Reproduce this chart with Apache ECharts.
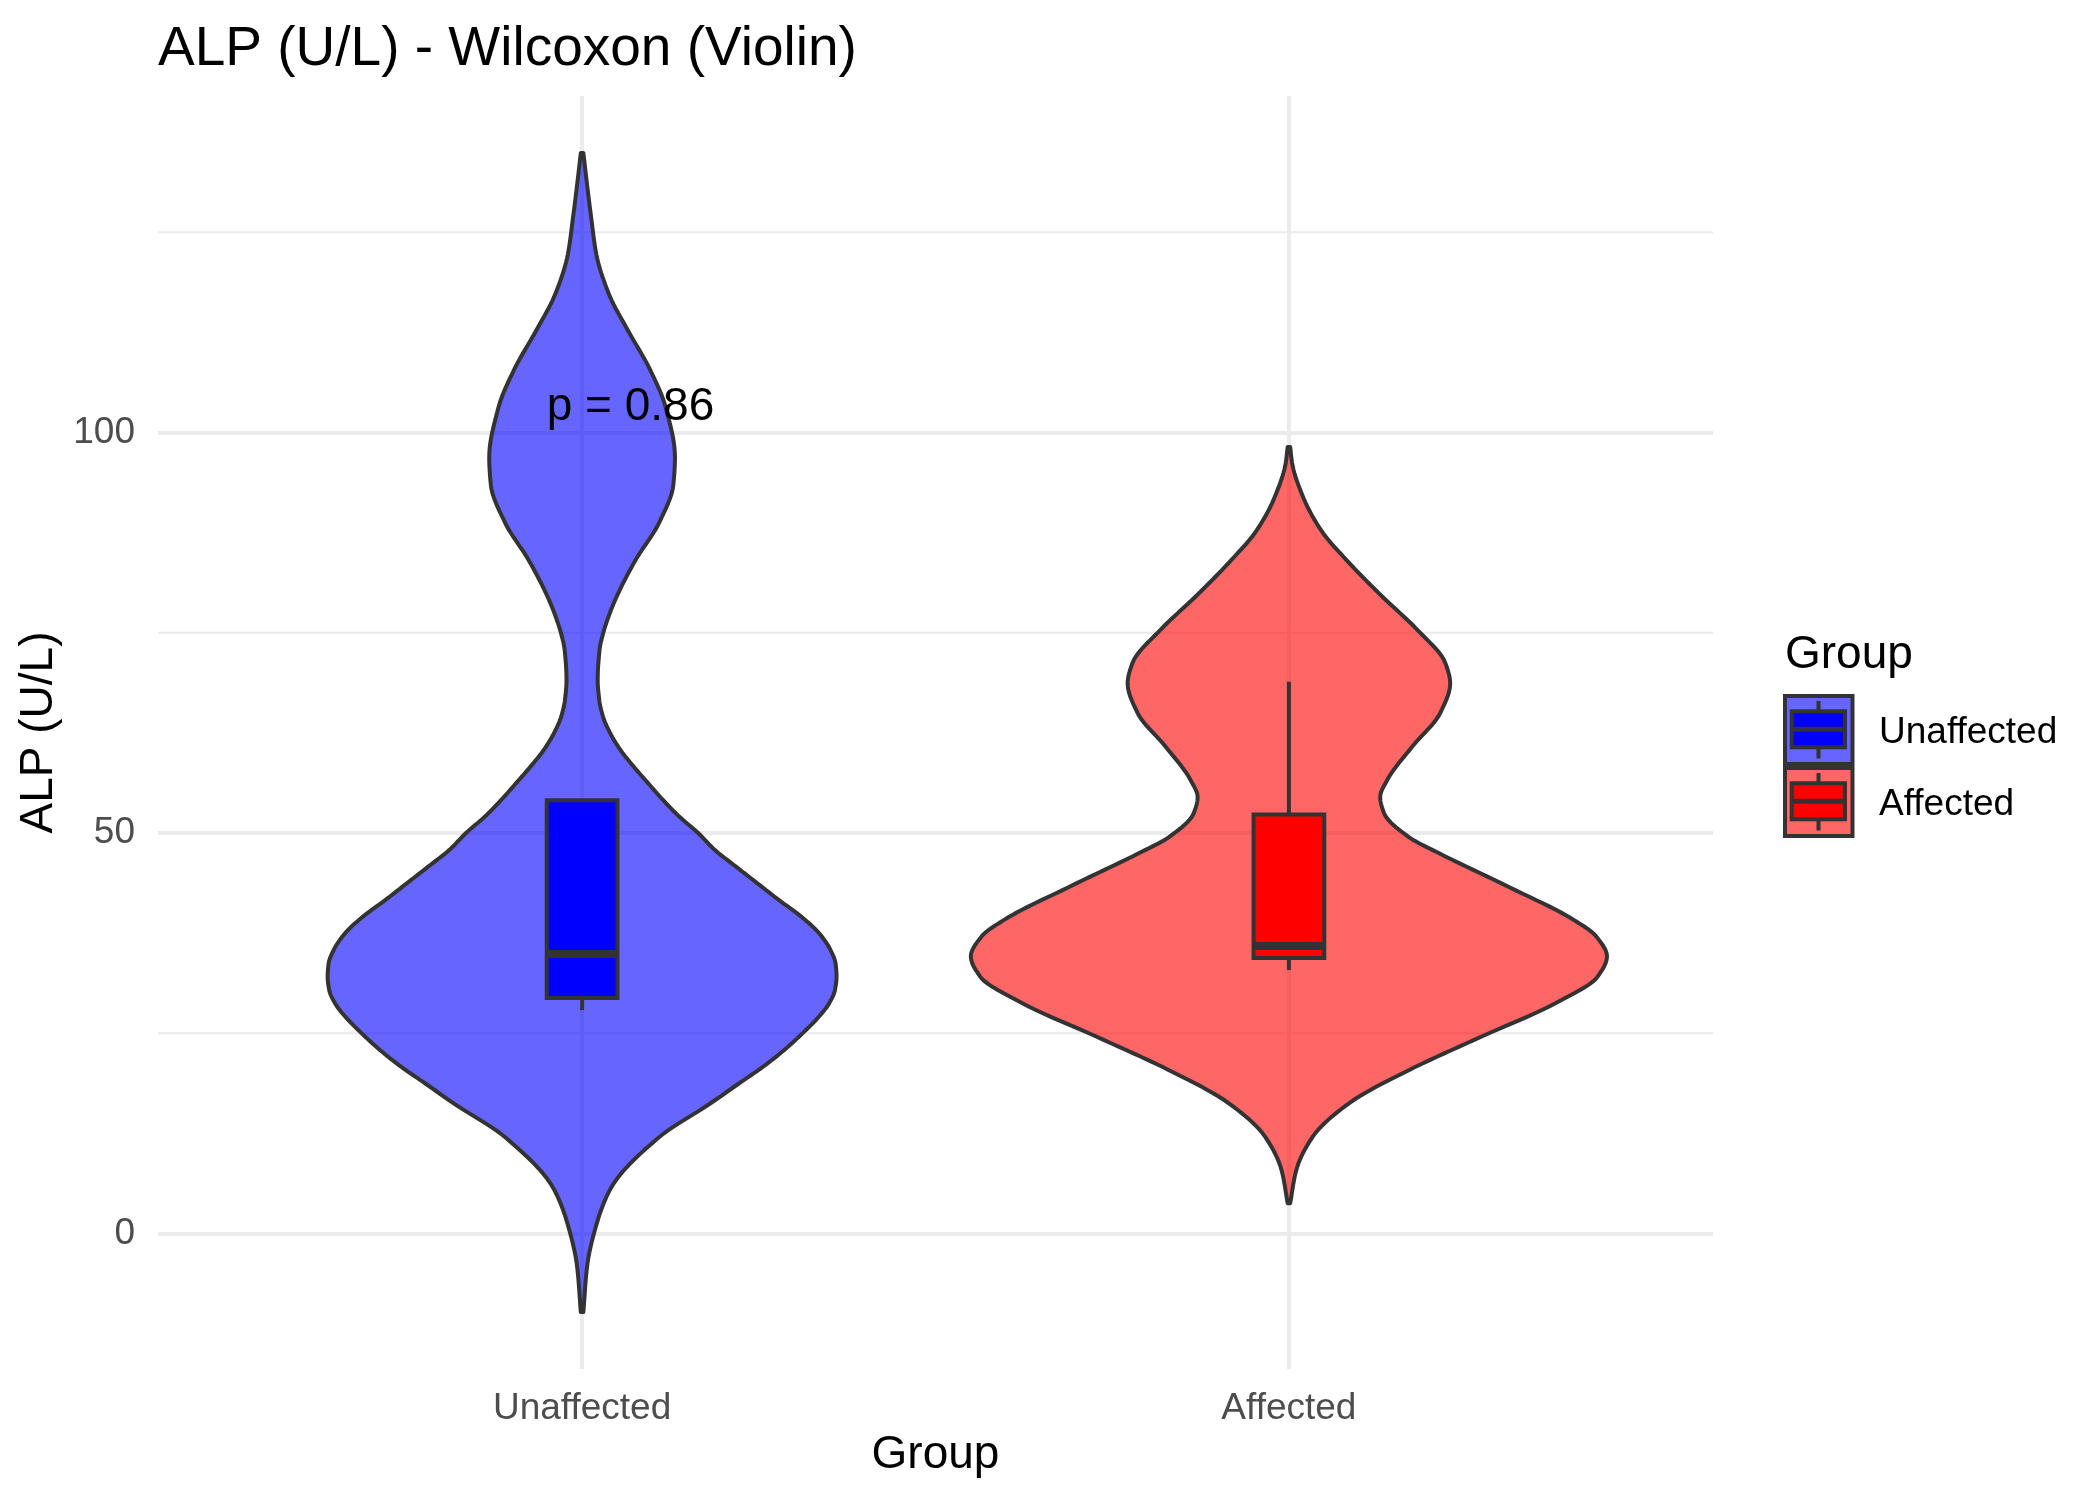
<!DOCTYPE html>
<html>
<head>
<meta charset="utf-8">
<script src="https://cdn.jsdelivr.net/npm/echarts@6/dist/echarts.min.js"></script>
<style>
  html, body { margin: 0; padding: 0; background: #ffffff; }
  #chart { width: 2100px; height: 1500px; }
</style>
</head>
<body>
<div id="chart"></div>
<script>
// ---------------- data ----------------
const categories = ['Unaffected', 'Affected'];
const categoryPositions = [1, 2];
const yTicks = [0, 50, 100];
const yMinorTicks = [25, 75, 125];

// violin outlines: y values and scaled density (1 = widest violin)
const unaffectedY = [134.9, 131.8, 127.0, 122.2, 117.4, 112.6, 107.9, 103.1, 96.9, 93.5, 88.8, 84.0, 79.1, 77.0, 74.9, 72.9, 69.1, 66.6, 64.5, 62.5, 60.4, 58.3, 56.2, 54.1, 52.0, 50.0, 47.9, 45.8, 43.7, 41.6, 39.6, 37.5, 35.4, 33.7, 32.1, 30.4, 28.7, 27.1, 25.0, 22.9, 20.8, 18.8, 16.3, 11.9, 5.5, 0.7, -4.0, -9.8];
const unaffectedDensity = [0.004, 0.013, 0.028, 0.045, 0.083, 0.146, 0.213, 0.263, 0.292, 0.287, 0.243, 0.167, 0.104, 0.083, 0.066, 0.055, 0.049, 0.054, 0.066, 0.088, 0.120, 0.162, 0.208, 0.255, 0.307, 0.365, 0.417, 0.484, 0.552, 0.620, 0.688, 0.745, 0.781, 0.797, 0.800, 0.795, 0.776, 0.745, 0.693, 0.635, 0.568, 0.495, 0.405, 0.238, 0.088, 0.042, 0.016, 0.004];

const affectedY = [98.2, 96.2, 92.0, 87.8, 83.7, 79.5, 75.4, 71.2, 68.7, 65.0, 60.8, 56.6, 54.5, 52.5, 49.5, 47.5, 43.3, 39.1, 37.1, 34.6, 32.1, 28.7, 24.6, 20.4, 16.3, 12.1, 7.9, 3.8];
const affectedDensity = [0.004, 0.010, 0.044, 0.101, 0.190, 0.294, 0.403, 0.492, 0.507, 0.476, 0.388, 0.309, 0.287, 0.299, 0.377, 0.471, 0.690, 0.898, 0.966, 1.000, 0.971, 0.835, 0.606, 0.377, 0.190, 0.075, 0.023, 0.004];

// box plots: [lower whisker, Q1, median, Q3, upper whisker]
const unaffectedBox = [27.9, 29.4, 34.9, 54.1, 54.1];
const affectedBox = [32.9, 34.4, 35.9, 52.3, 68.9];

const pValueLabel = 'p = 0.86';
const pValueAt = [0.95, 103.2];

// ---------------- styles ----------------
const FONT = "'Liberation Sans', Arial, Helvetica, sans-serif";
const X_MIN = 0.4, X_MAX = 2.6, Y_MIN = -16.9, Y_MAX = 142;
const VIOLIN_HALF = 0.45;
const BOX_HALF = 0.05;
const OUTLINE = '#333333';
const violinFill = ['rgba(0,0,255,0.6)', 'rgba(255,0,0,0.6)'];
const boxFill = ['#0000FF', '#FF0000'];
const keyBg = ['#6666FF', '#FF6666'];

const violins = [
  { y: unaffectedY, d: unaffectedDensity },
  { y: affectedY, d: affectedDensity }
];
const boxes = [unaffectedBox, affectedBox];

function keyIcon(bg, fg) {
  const svg = '<svg xmlns="http://www.w3.org/2000/svg" width="91" height="72" viewBox="0 0 91 72">' +
    '<rect x="2" y="2" width="67.5" height="68" fill="' + bg + '" stroke="#333333" stroke-width="4"/>' +
    '<line x1="35.5" y1="7" x2="35.5" y2="17.3" stroke="#333333" stroke-width="4"/>' +
    '<line x1="35.5" y1="53.3" x2="35.5" y2="64.5" stroke="#333333" stroke-width="4"/>' +
    '<rect x="8.7" y="17.3" width="53.3" height="36" fill="' + fg + '" stroke="#333333" stroke-width="4"/>' +
    '<line x1="8.7" y1="35.3" x2="62" y2="35.3" stroke="#333333" stroke-width="5"/>' +
    '</svg>';
  return 'image://data:image/svg+xml;charset=utf-8,' + encodeURIComponent(svg);
}

// monotone cubic (PCHIP) outline through the read points, evaluated finely for drawing
function outlineSampler(ysDesc, dsDesc) {
  const xs = ysDesc.slice().reverse(), vs = dsDesc.slice().reverse();
  const n = xs.length, h = [], del = [], m = new Array(n);
  for (let k = 0; k < n - 1; k++) { h.push(xs[k + 1] - xs[k]); del.push((vs[k + 1] - vs[k]) / h[k]); }
  m[0] = del[0]; m[n - 1] = del[n - 2];
  for (let k = 1; k < n - 1; k++) {
    if (del[k - 1] * del[k] <= 0) m[k] = 0;
    else {
      const w1 = 2 * h[k] + h[k - 1], w2 = h[k] + 2 * h[k - 1];
      m[k] = (w1 + w2) / (w1 / del[k - 1] + w2 / del[k]);
    }
  }
  return function (steps) {
    const out = [];
    for (let k = 0; k < n - 1; k++) {
      for (let s = 0; s < steps; s++) {
        const t = s / steps, t2 = t * t, t3 = t2 * t;
        const val = (2 * t3 - 3 * t2 + 1) * vs[k] + (t3 - 2 * t2 + t) * h[k] * m[k] +
                    (-2 * t3 + 3 * t2) * vs[k + 1] + (t3 - t2) * h[k] * m[k + 1];
        out.push([xs[k] + t * h[k], Math.max(val, 0)]);
      }
    }
    out.push([xs[n - 1], vs[n - 1]]);
    return out; // [y, density], ascending y
  };
}

function makeViolinRenderer(gi) {
  const sampler = outlineSampler(violins[gi].y, violins[gi].d);
  return function (params, api) {
    const cx = api.value(0);
    const samples = sampler(10);
    const right = samples.map(p => api.coord([cx + p[1] * VIOLIN_HALF, p[0]]));
    const left = samples.slice().reverse().map(p => api.coord([cx - p[1] * VIOLIN_HALF, p[0]]));
    return {
      type: 'polygon',
      shape: { points: right.concat(left) },
      style: { fill: violinFill[gi], stroke: OUTLINE, lineWidth: 4, lineJoin: 'round' }
    };
  };
}

function makeBoxRenderer(gi) {
  return function (params, api) {
    const x = api.value(0);
    const b = boxes[gi];
    const lo = b[0], q1 = b[1], med = b[2], q3 = b[3], hi = b[4];
    const children = [];
    const wStyle = { stroke: OUTLINE, lineWidth: 4 };
    if (hi > q3) {
      const a = api.coord([x, q3]), c = api.coord([x, hi]);
      children.push({ type: 'line', shape: { x1: a[0], y1: a[1], x2: c[0], y2: c[1] }, style: wStyle });
    }
    if (lo < q1) {
      const a = api.coord([x, lo]), c = api.coord([x, q1]);
      children.push({ type: 'line', shape: { x1: a[0], y1: a[1], x2: c[0], y2: c[1] }, style: wStyle });
    }
    const tl = api.coord([x - BOX_HALF, q3]);
    const br = api.coord([x + BOX_HALF, q1]);
    children.push({
      type: 'rect',
      shape: { x: tl[0], y: tl[1], width: br[0] - tl[0], height: br[1] - tl[1] },
      style: { fill: boxFill[gi], stroke: OUTLINE, lineWidth: 4 }
    });
    const m1 = api.coord([x - BOX_HALF, med]), m2 = api.coord([x + BOX_HALF, med]);
    children.push({ type: 'line', shape: { x1: m1[0], y1: m1[1], x2: m2[0], y2: m2[1] }, style: { stroke: OUTLINE, lineWidth: 8 } });
    return { type: 'group', children: children };
  };
}

const chart = echarts.init(document.getElementById('chart'), null, { renderer: 'canvas', width: 2100, height: 1500 });

const option = {
  animation: false,
  backgroundColor: '#ffffff',
  title: [
    {
      text: 'ALP (U/L) - Wilcoxon (Violin)',
      left: 158, top: 22, padding: 0,
      textStyle: { fontFamily: FONT, fontSize: 55, fontWeight: 'normal', color: '#000000' }
    },
    {
      text: 'Group',
      left: 1785, top: 632, padding: 0,
      textStyle: { fontFamily: FONT, fontSize: 46, fontWeight: 'normal', color: '#000000' }
    }
  ],
  legend: {
    orient: 'vertical',
    left: 1783, top: 694, padding: 0,
    itemWidth: 91, itemHeight: 72, itemGap: 0,
    selectedMode: false,
    formatter: '{t|{name}}',
    textStyle: {
      fontFamily: FONT, fontSize: 37, color: '#000000',
      rich: { t: { fontFamily: FONT, fontSize: 37, color: '#000000', padding: [6, 0, 0, 0] } }
    },
    data: [
      { name: categories[0], icon: keyIcon(keyBg[0], boxFill[0]) },
      { name: categories[1], icon: keyIcon(keyBg[1], boxFill[1]) }
    ]
  },
  grid: { left: 158, top: 96, width: 1555, height: 1273, containLabel: false, outerBoundsMode: 'none' },
  xAxis: {
    type: 'value', min: X_MIN, max: X_MAX,
    axisLine: { show: false },
    axisTick: { show: false, customValues: categoryPositions },
    axisLabel: {
      customValues: categoryPositions,
      formatter: function (v) { const i = categoryPositions.indexOf(Math.round(v)); return i >= 0 ? categories[i] : ''; },
      fontFamily: FONT, fontSize: 37, color: '#4D4D4D', margin: 21
    },
    splitLine: { show: true, lineStyle: { color: '#EBEBEB', width: 4 } },
    name: 'Group', nameLocation: 'middle', nameGap: 61,
    nameTextStyle: { fontFamily: FONT, fontSize: 46, color: '#000000' }
  },
  yAxis: {
    type: 'value', min: Y_MIN, max: Y_MAX,
    axisLine: { show: false },
    axisTick: { show: false, customValues: yTicks },
    axisLabel: { customValues: yTicks, fontFamily: FONT, fontSize: 37, color: '#4D4D4D', margin: 23 },
    splitLine: { show: true, lineStyle: { color: '#EBEBEB', width: 4 } },
    name: 'ALP (U/L)', nameLocation: 'middle', nameGap: 96, nameRotate: 90,
    nameTextStyle: { fontFamily: FONT, fontSize: 46, color: '#000000' }
  },
  series: [
    {
      name: 'minorGrid', type: 'custom', z: 1, silent: true,
      data: yMinorTicks.map(v => [X_MIN, v]),
      renderItem: function (params, api) {
        const v = api.value(1);
        const a = api.coord([X_MIN, v]), b = api.coord([X_MAX, v]);
        return { type: 'line', shape: { x1: a[0], y1: a[1], x2: b[0], y2: b[1] }, style: { stroke: '#EBEBEB', lineWidth: 2 } };
      }
    },
    {
      name: categories[0], type: 'custom', z: 2, silent: true,
      data: [[categoryPositions[0], 0]],
      renderItem: makeViolinRenderer(0)
    },
    {
      name: categories[1], type: 'custom', z: 2, silent: true,
      data: [[categoryPositions[1], 0]],
      renderItem: makeViolinRenderer(1)
    },
    {
      name: categories[0], type: 'custom', z: 3, silent: true,
      data: [[categoryPositions[0], unaffectedBox[2]]],
      renderItem: makeBoxRenderer(0)
    },
    {
      name: categories[1], type: 'custom', z: 3, silent: true,
      data: [[categoryPositions[1], affectedBox[2]]],
      renderItem: makeBoxRenderer(1)
    },
    {
      name: 'pValue', type: 'custom', z: 4, silent: true,
      data: [pValueAt],
      renderItem: function (params, api) {
        const p = api.coord([api.value(0), api.value(1)]);
        return {
          type: 'text',
          x: p[0], y: p[1],
          style: { text: pValueLabel, fill: '#000000', font: '46px ' + FONT, textAlign: 'left', textVerticalAlign: 'middle' }
        };
      }
    }
  ]
};
chart.setOption(option);
</script>
</body>
</html>
